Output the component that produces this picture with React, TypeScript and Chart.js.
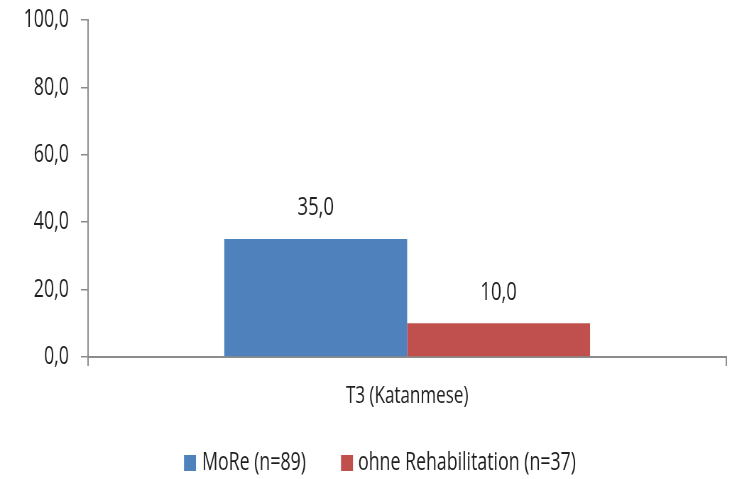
import React, { useEffect, useRef } from "react";
import { Chart, registerables } from "chart.js";

Chart.register(...registerables);

const categories = ["T3 (Katanmese)"];
const seriesLabels = ["MoRe (n=89)", "ohne Rehabilitation (n=37)"];
const moreValues = [35.0];
const ohneValues = [10.0];
const yTicks = [0, 20, 40, 60, 80, 100];
const colors = ["#4F81BD", "#C0504D"];

const SX = 0.71;
const W = Math.round(734 / SX);
const H = 479;
const FONT = "'Open Sans', 'Noto Sans', sans-serif";
const TEXT = "#1e1e1e";
const AXIS = "#8c8c8c";

const fmt = (v: number) => v.toFixed(1).replace(".", ",");

export default function App() {
  const ref = useRef<HTMLCanvasElement | null>(null);

  useEffect(() => {
    if (!ref.current) return;
    const labelsPlugin = {
      id: "valueLabels",
      afterDatasetsDraw(chart: any) {
        const ctx = chart.ctx;
        ctx.save();
        ctx.font = `26px ${FONT}`;
        ctx.fillStyle = TEXT;
        ctx.textAlign = "center";
        ctx.textBaseline = "middle";
        chart.data.datasets.forEach((ds: any, i: number) => {
          const meta = chart.getDatasetMeta(i);
          meta.data.forEach((bar: any, j: number) => {
            ctx.fillText(fmt(ds.data[j]), bar.x, bar.y - 31);
          });
        });
        ctx.restore();
      },
    };
    const legendPlugin = {
      id: "customLegend",
      afterDraw(chart: any) {
        const ctx = chart.ctx;
        ctx.save();
        ctx.font = `25px ${FONT}`;
        ctx.textBaseline = "middle";
        ctx.textAlign = "left";
        const y = 463;
        const starts = [184 / SX, 341 / SX];
        const gaps = [18 / SX, 17 / SX];
        chart.data.datasets.forEach((ds: any, i: number) => {
          const x = starts[i];
          ctx.fillStyle = ds.backgroundColor;
          ctx.fillRect(x, y - 8, 12 / SX, 16);
          ctx.fillStyle = TEXT;
          ctx.fillText(ds.label, x + gaps[i], y);
        });
        ctx.restore();
      },
    };
    const chart = new Chart(ref.current, {
      type: "bar",
      data: {
        labels: categories,
        datasets: [
          { label: seriesLabels[0], data: moreValues, backgroundColor: colors[0] },
          { label: seriesLabels[1], data: ohneValues, backgroundColor: colors[1] },
        ],
      },
      options: {
        responsive: false,
        animation: false,
        devicePixelRatio: 1,
        layout: { padding: { left: 0, right: Math.round(W - 726 / SX), top: 20, bottom: 0 } },
        plugins: { legend: { display: false }, tooltip: { enabled: false } },
        datasets: { bar: { categoryPercentage: 0.573, barPercentage: 1.0 } },
        scales: {
          x: {
            grid: { display: true, drawOnChartArea: false, drawTicks: true, tickLength: 9, color: AXIS, lineWidth: 2, offset: true },
            border: { display: true, color: AXIS, width: 2 },
            ticks: { color: TEXT, font: { family: FONT, size: 24 }, padding: 16 },
            afterFit: (s: any) => { s.height = H - 357; s.paddingLeft = 0; s.paddingRight = 0; },
          },
          y: {
            min: 0,
            max: 100,
            afterBuildTicks: (s: any) => { s.ticks = yTicks.map((v) => ({ value: v })); },
            grid: { display: true, drawOnChartArea: false, drawTicks: true, tickLength: 10, color: AXIS, lineWidth: 1.5 },
            border: { display: true, color: AXIS, width: 2 },
            ticks: {
              color: TEXT,
              font: { family: FONT, size: 25 },
              padding: 17,
              callback: (v: any) => fmt(Number(v)),
            },
            afterFit: (s: any) => { s.width = 88 / SX; s.paddingTop = 0; s.paddingBottom = 0; },
          },
        },
      },
      plugins: [labelsPlugin, legendPlugin],
    });
    return () => chart.destroy();
  }, []);

  return (
    <div style={{ position: "absolute", left: 0, top: 0, width: 734, height: 479, overflow: "hidden", background: "#fff" }}>
      <div style={{ width: W, height: H, transform: `scaleX(${SX})`, transformOrigin: "0 0" }}>
        <canvas ref={ref} width={W} height={H} />
      </div>
    </div>
  );
}
